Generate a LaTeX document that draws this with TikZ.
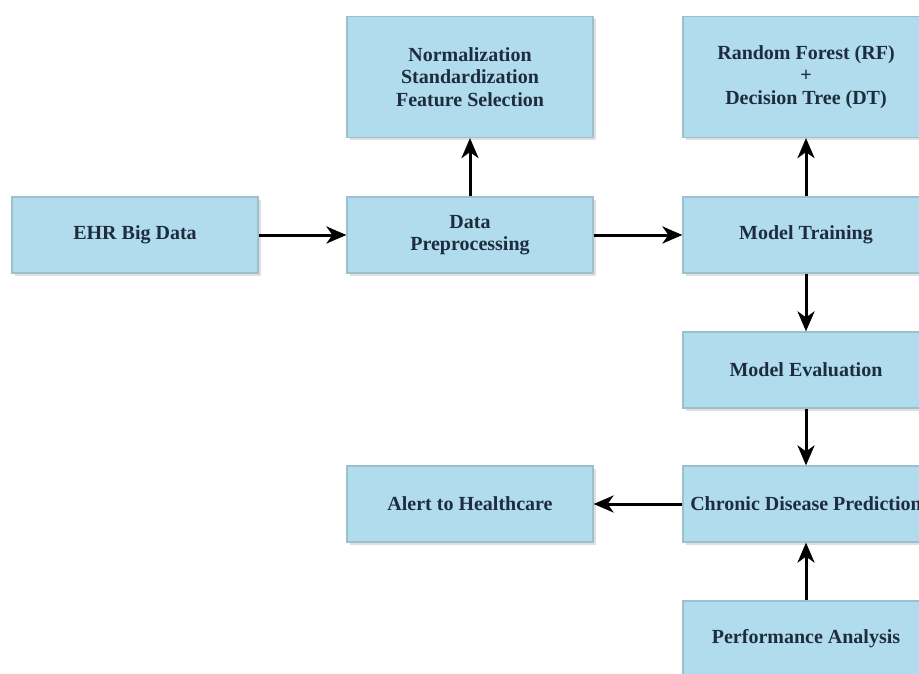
\documentclass[tikz,border=0pt]{standalone}
\usepackage{fontspec}
\setmainfont{Liberation Serif}
\usetikzlibrary{arrows.meta,shadows}
\definecolor{boxfill}{HTML}{B0DCEE}
\definecolor{boxline}{HTML}{9EBFCD}
\definecolor{boxtext}{HTML}{1E2D3D}
\tikzset{
  box/.style={draw=boxline, line width=1.2pt, fill=boxfill, text=boxtext,
    minimum width=246pt, minimum height=76pt, inner sep=0pt, align=center,
    font=\fontsize{20}{22.5}\selectfont\bfseries,
    drop shadow={opacity=0.25, shadow xshift=3pt, shadow yshift=-3pt}},
  tallbox/.style={box, minimum height=121pt},
  flow/.style={-{Stealth[length=20pt,width=17pt,inset=6pt]}, line width=3pt}
}
\begin{document}
\begin{tikzpicture}[x=1pt,y=-1pt]
      \clip (0,0) rectangle (919,674);
      \fill[white] (0,0) rectangle (919,674);
      \draw
        (135,235) node[box] (ehr){EHR Big Data}
        (470,235) node[box] (prep){Data\\Preprocessing}
        (470,77) node[tallbox] (norm){Normalization\\Standardization\\Feature Selection}
        (806,235) node[box] (train){Model Training}
        (806,77) node[tallbox] (rf){Random Forest (RF)\\+\\Decision Tree (DT)}
        (806,370) node[box] (eval){Model Evaluation}
        (806,504) node[box] (pred){Chronic Disease Prediction}
        (470,504) node[box] (alert){Alert to Healthcare}
        (806,639) node[box] (perf){Performance Analysis};
      \begin{scope}[flow]
        \draw (ehr) to (prep);
        \draw (prep) to (norm);
        \draw (prep) to (train);
        \draw (train) to (rf);
        \draw (train) to (eval);
        \draw (eval) to (pred);
        \draw (pred) to (alert);
        \draw (perf) to (pred);
      \end{scope}
    \end{tikzpicture}
\end{document}
